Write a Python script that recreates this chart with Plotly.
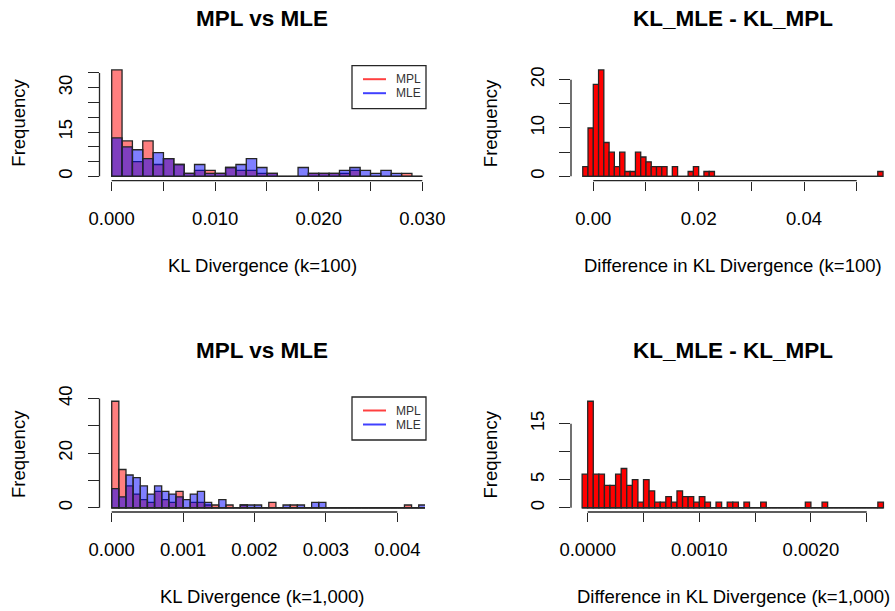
import numpy as np
import plotly.graph_objects as go

# ---------------- data: histogram counts per bin ----------------
# KL divergence, k = 100 (bins of 0.001 starting at 0)
kl100_bin_start = 0.0
kl100_bin_width = 0.001
mpl_kl100 = [36, 12, 5, 12, 4, 6, 4, 1, 2, 2, 1, 3, 2, 2, 1, 1, 0, 0, 0, 1,
             1, 1, 1, 2, 0, 0, 0, 0, 1, 0]
mle_kl100 = [13, 10, 9, 6, 8, 6, 4, 1, 4, 1, 1, 3, 4, 6, 3, 1, 0, 0, 3, 1,
             1, 1, 2, 3, 2, 1, 2, 1, 0, 0]

# KL_MLE - KL_MPL, k = 100 (bins of 0.001 starting at -0.002)
diff100_bin_start = -0.002
diff100_bin_width = 0.001
diff_kl100 = [2, 10, 19, 22, 7, 5, 2, 5, 1, 1, 5, 4, 3, 2, 2, 2, 0, 2, 0, 0,
              1, 2, 0, 1, 1, 0, 0, 0, 0, 0, 0, 0, 0, 0, 0, 0, 0, 0, 0, 0,
              0, 0, 0, 0, 0, 0, 0, 0, 0, 0, 0, 0, 0, 0, 0, 0, 1]

# KL divergence, k = 1,000 (bins of 0.0001 starting at 0)
kl1000_bin_start = 0.0
kl1000_bin_width = 0.0001
mpl_kl1000 = [39, 14, 8, 5, 3, 2, 6, 3, 2, 6, 0, 2, 2, 1, 1, 0, 1, 0, 1, 0,
              0, 0, 2, 0, 0, 1, 0, 0, 0, 0, 0, 0, 0, 0, 0, 0, 0, 0, 0, 0,
              0, 1, 0, 0]
mle_kl1000 = [7, 4, 12, 11, 8, 5, 8, 6, 5, 4, 3, 5, 6, 2, 0, 3, 0, 0, 1, 1,
              1, 0, 0, 0, 1, 0, 1, 0, 2, 2, 0, 0, 0, 0, 0, 0, 0, 0, 0, 0,
              0, 0, 0, 1]

# KL_MLE - KL_MPL, k = 1,000 (bins of 0.00005 starting at -0.00005)
diff1000_bin_start = -0.00005
diff1000_bin_width = 0.00005
diff_kl1000 = [6, 19, 6, 6, 4, 4, 6, 7, 4, 5, 1, 5, 3, 1, 1, 2, 1, 3, 2, 2,
               1, 2, 1, 0, 1, 0, 1, 1, 0, 1, 0, 0, 1, 0, 0, 0, 0, 0, 0, 0,
               1, 0, 0, 1, 0, 0, 0, 0, 0, 0, 0, 0, 0, 1]

# ---------------- tick values / labels ----------------
p1_xticks = [0.0, 0.005, 0.010, 0.015, 0.020, 0.025, 0.030]
p1_xlabels = ["0.000", "", "0.010", "", "0.020", "", "0.030"]
p1_yticks = [0, 5, 10, 15, 20, 25, 30, 35]
p1_ylabels = ["0", "", "", "15", "", "", "30", ""]

p2_xticks = [0.0, 0.01, 0.02, 0.03, 0.04, 0.05]
p2_xlabels = ["0.00", "", "0.02", "", "0.04", ""]
p2_yticks = [0, 5, 10, 15, 20]
p2_ylabels = ["0", "", "10", "", "20"]

p3_xticks = [0.0, 0.001, 0.002, 0.003, 0.004]
p3_xlabels = ["0.000", "0.001", "0.002", "0.003", "0.004"]
p3_yticks = [0, 10, 20, 30, 40]
p3_ylabels = ["0", "", "20", "", "40"]

p4_xticks = [0.0, 0.0005, 0.0010, 0.0015, 0.0020, 0.0025]
p4_xlabels = ["0.0000", "", "0.0010", "", "0.0020", ""]
p4_yticks = [0, 5, 10, 15]
p4_ylabels = ["0", "5", "", "15"]

legend_names = ["MPL", "MLE"]

# ---------------- styling ----------------
W, H = 895, 611
FONT = "Liberation Sans, Arial, sans-serif"
INK = "#262626"
RED_T = "rgba(255,0,0,0.5)"
BLUE_T = "rgba(0,0,255,0.5)"
RED = "#ff0000"
LEGEND_LINE = ["rgba(255,0,0,0.75)", "rgba(0,0,255,0.75)"]
TICK_FS = 18.5
LAB_FS = 18.5
MAIN_FS = 22.5


def px_x(v):
    return v / W


def px_y(v):
    return 1 - v / H


def edges_of(start, width, counts):
    return start + width * np.arange(len(counts) + 1)


def centers_of(start, width, counts):
    e = edges_of(start, width, counts)
    return (e[:-1] + e[1:]) / 2


def r_ylim(*series):
    top = max(max(s) for s in series)
    return [-0.04 * top, 1.04 * top]


# panel geometry (plot-region pixels) and x ranges
panels = [
    dict(ax="", dom_x=(99.5, 425), dom_y=(65.7, 180.6), xr=[-0.001178, 0.030262],
         xt=p1_xticks, xl=p1_xlabels, yt=p1_yticks, yl=p1_ylabels,
         title="MPL vs MLE", xtitle="KL Divergence (k=100)"),
    dict(ax="2", dom_x=(571, 895), dom_y=(65.7, 180.6), xr=[-0.004233, 0.057270],
         xt=p2_xticks, xl=p2_xlabels, yt=p2_yticks, yl=p2_ylabels,
         title="KL_MLE - KL_MPL", xtitle="Difference in KL Divergence (k=100)"),
    dict(ax="3", dom_x=(99.5, 425), dom_y=(397, 512), xr=[-0.000171, 0.004388],
         xt=p3_xticks, xl=p3_xlabels, yt=p3_yticks, yl=p3_ylabels,
         title="MPL vs MLE", xtitle="KL Divergence (k=1,000)"),
    dict(ax="4", dom_x=(571, 895), dom_y=(397, 512), xr=[-0.0001496, 0.0027536],
         xt=p4_xticks, xl=p4_xlabels, yt=p4_yticks, yl=p4_ylabels,
         title="KL_MLE - KL_MPL", xtitle="Difference in KL Divergence (k=1,000)"),
]

hist_sets = [
    [(kl100_bin_start, kl100_bin_width, mpl_kl100, RED_T),
     (kl100_bin_start, kl100_bin_width, mle_kl100, BLUE_T)],
    [(diff100_bin_start, diff100_bin_width, diff_kl100, RED)],
    [(kl1000_bin_start, kl1000_bin_width, mpl_kl1000, RED_T),
     (kl1000_bin_start, kl1000_bin_width, mle_kl1000, BLUE_T)],
    [(diff1000_bin_start, diff1000_bin_width, diff_kl1000, RED)],
]

fig = go.Figure()
layout = dict(
    width=W, height=H, margin=dict(l=0, r=0, t=0, b=0, autoexpand=False),
    paper_bgcolor="white", plot_bgcolor="white",
    barmode="overlay", showlegend=False,
    font=dict(family=FONT, color="black"),
)
shapes, annotations = [], []

for p, hs in zip(panels, hist_sets):
    xa, ya = "x" + p["ax"], "y" + p["ax"]
    yr = r_ylim(*[h[2] for h in hs])

    for start, width, counts, color in hs:
        fig.add_trace(go.Bar(
            x=centers_of(start, width, counts), y=counts, width=width,
            marker=dict(color=color, line=dict(color=INK, width=1.3)),
            xaxis=xa, yaxis=ya, hoverinfo="skip",
        ))
    # flat baseline under empty bins
    e = edges_of(hs[0][0], hs[0][1], hs[0][2])
    shapes.append(dict(type="line", xref=xa, yref=ya, x0=e[0], x1=e[-1], y0=0, y1=0,
                       line=dict(color=INK, width=1.3)))

    # boxed key (top-right of the overlaid panels)
    if len(hs) == 2:
        top = p["dom_y"][0]
        shapes.append(dict(type="rect", xref="paper", yref="paper",
                           x0=px_x(352), x1=px_x(426), y0=px_y(top + 43), y1=px_y(top),
                           line=dict(color=INK, width=1.3), fillcolor="white"))
        for k, (name, col) in enumerate(zip(legend_names, LEGEND_LINE)):
            ly = top + 13.5 + 14 * k
            shapes.append(dict(type="line", xref="paper", yref="paper",
                               x0=px_x(363), x1=px_x(386), y0=px_y(ly), y1=px_y(ly),
                               line=dict(color=col, width=2)))
            annotations.append(dict(text=name, xref="paper", yref="paper",
                                    x=px_x(394), y=px_y(ly), xanchor="left", yanchor="middle",
                                    showarrow=False,
                                    font=dict(size=12, family=FONT, color="#333333")))

    xkey = "xaxis" + p["ax"]
    ykey = "yaxis" + p["ax"]
    layout[xkey] = dict(
        domain=[px_x(p["dom_x"][0]), px_x(p["dom_x"][1])], anchor=ya,
        range=p["xr"], showgrid=False, zeroline=False, showline=False,
        automargin=False,
        tickmode="array", tickvals=p["xt"], ticktext=p["xl"],
        ticks="outside", ticklen=9, tickwidth=1.3, tickcolor=INK,
        tickfont=dict(size=TICK_FS, family=FONT, color="black"),
        ticklabelstandoff=12,
    )
    layout[ykey] = dict(
        domain=[px_y(p["dom_y"][1]), px_y(p["dom_y"][0])], anchor=xa,
        range=yr, showgrid=False, zeroline=False, showline=False,
        automargin=False,
        tickmode="array", tickvals=p["yt"], ticktext=p["yl"],
        ticks="outside", ticklen=11, tickwidth=1.3, tickcolor=INK, tickangle=-90,
        tickfont=dict(size=TICK_FS, family=FONT, color="black"),
        ticklabelstandoff=8,
    )
    # axis lines spanning first to last tick
    shapes.append(dict(type="line", xref=xa, yref=ya + " domain",
                       x0=p["xt"][0], x1=p["xt"][-1], y0=0, y1=0,
                       line=dict(color=INK, width=1.3)))
    shapes.append(dict(type="line", xref=xa + " domain", yref=ya,
                       x0=0, x1=0, y0=p["yt"][0], y1=p["yt"][-1],
                       line=dict(color=INK, width=1.3)))

    cx = px_x((p["dom_x"][0] + p["dom_x"][1]) / 2)
    top = p["dom_y"][0]
    annotations.append(dict(text="<b>" + p["title"] + "</b>", xref="paper", yref="paper",
                            x=cx, y=px_y(top - 47), xanchor="center", yanchor="middle",
                            showarrow=False, font=dict(size=MAIN_FS, family=FONT, color="black")))
    annotations.append(dict(text=p["xtitle"], xref="paper", yref="paper",
                            x=cx, y=px_y(top + 199.5), xanchor="center", yanchor="middle",
                            showarrow=False, font=dict(size=LAB_FS, family=FONT, color="black")))
    annotations.append(dict(text="Frequency", xref="paper", yref="paper",
                            x=px_x(p["dom_x"][0] - 81), y=px_y((p["dom_y"][0] + p["dom_y"][1]) / 2),
                            xanchor="center", yanchor="middle", textangle=-90,
                            showarrow=False, font=dict(size=LAB_FS, family=FONT, color="black")))

layout["shapes"] = shapes
layout["annotations"] = annotations
fig.update_layout(**layout)
fig.write_html("out.html")
